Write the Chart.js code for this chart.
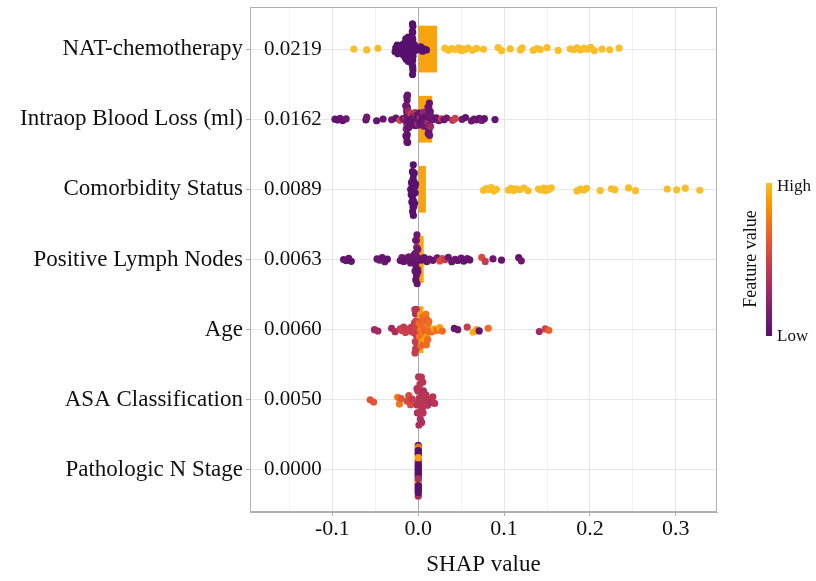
<!DOCTYPE html>
<html>
<head>
<meta charset="utf-8">
<script src="https://cdn.jsdelivr.net/npm/chart.js@4.4.1/dist/chart.umd.min.js"></script>
<style>
  html, body { margin: 0; padding: 0; background: #fff; }
  #wrap { width: 816px; height: 581px; position: relative; }
</style>
</head>
<body>
<div id="wrap"><canvas id="shapChart"></canvas></div>
<script>
// feature names, top to bottom, and mean |SHAP| shown by the bars and the numbers
var features = ["NAT-chemotherapy", "Intraop Blood Loss (ml)", "Comorbidity Status",
  "Positive Lymph Nodes", "Age", "ASA Classification", "Pathologic N Stage"];
var meanAbsShap = [0.0219, 0.0162, 0.0089, 0.0063, 0.0060, 0.0050, 0.0000];

var xMajorTicks = [-0.1, 0, 0.1, 0.2, 0.3];
var xMinorTicks = [-0.15, -0.05, 0.05, 0.15, 0.25];

// NAT-chemotherapy (binary: high = 1, low = 0)
var natHighShap = [-0.075, -0.060, -0.047, 0.031, 0.035, 0.039, 0.043, 0.047, 0.050, 0.052, 0.054,
  0.058, 0.063, 0.068, 0.076, 0.093, 0.097, 0.107, 0.119, 0.121, 0.134, 0.138, 0.142, 0.150, 0.163,
  0.177, 0.181, 0.185, 0.189, 0.193, 0.197, 0.201, 0.205, 0.214, 0.223, 0.234];
var natLowShap = [-0.027, -0.0262, -0.0254, -0.0246, -0.0238, -0.023, -0.0222, -0.0214, -0.0206,
  -0.0198, -0.019, -0.0182, -0.0174,
  -0.0165, -0.016, -0.0155, -0.015, -0.0145, -0.014, -0.0135, -0.013, -0.0125, -0.012, -0.0115,
  -0.011, -0.0105, -0.010, -0.0095, -0.009, -0.0085, -0.008,
  -0.01575, -0.01475, -0.01375, -0.01275, -0.01175, -0.01075, -0.00975, -0.00875,
  -0.0069, -0.00685, -0.0068, -0.00675, -0.0067, -0.00665, -0.0066, -0.00655, -0.0065, -0.00645,
  -0.0064, -0.00635, -0.0063, -0.00625, -0.0062, -0.0061,
  -0.0045, -0.003, -0.001, 0.001, 0.003, 0.005, 0.007, 0.0095];

// Intraop Blood Loss (continuous)
var bloodShap = [-0.097, -0.094, -0.091, -0.088, -0.084, -0.061, -0.060, -0.0485, -0.041, -0.031,
  -0.026, -0.0213, -0.018, -0.016,
  -0.0146, -0.0144, -0.0142, -0.0140, -0.0138, -0.0136, -0.0135, -0.0134, -0.0133, -0.0132,
  -0.0131, -0.0130, -0.0129, -0.0128, -0.0127, -0.0126, -0.0125, -0.0123, -0.0121, -0.0118,
  -0.0115, -0.0112,
  -0.0095, -0.0089, -0.0083, -0.0077, -0.0071, -0.0065, -0.0059, -0.0053, -0.0047, -0.0041,
  -0.0035, -0.0029, -0.0023, -0.0017, -0.0011, -0.0005, 0.0001, 0.0007, 0.0013, 0.0019, 0.0025,
  0.0031, 0.0037, 0.0043, 0.0049, 0.0055, 0.0061, 0.0067, 0.0073, 0.0079, 0.0085,
  0.0105, 0.0108, 0.0111, 0.0114, 0.0116, 0.0118, 0.0120, 0.0122, 0.0124, 0.0126, 0.0128,
  0.0130, 0.0132, 0.0134, 0.0137, 0.0140, 0.0143, 0.0146,
  0.018, 0.021, 0.024, 0.027, 0.030, 0.033, 0.040, 0.043, 0.051, 0.055, 0.062, 0.065, 0.068,
  0.071, 0.074, 0.077, 0.0894];
var bloodFeat = [0.05, 0.05, 0.08, 0.05, 0.10, 0.05, 0.12, 0.05, 0.08, 0.10, 0.05, 0.55, 0.10, 0.15,
  0.05, 0.08, 0.30, 0.05, 0.10, 0.05, 0.08, 0.25, 0.05, 0.10, 0.05, 0.30, 0.08, 0.05, 0.10, 0.05,
  0.08, 0.05, 0.10, 0.05, 0.30, 0.05,
  0.10, 0.05, 0.45, 0.08, 0.05, 0.10, 0.30, 0.05, 0.08, 0.05, 0.40, 0.05, 0.10, 0.05, 0.08, 0.30,
  0.05, 0.10, 0.05, 0.08, 0.35, 0.05, 0.10, 0.05, 0.08, 0.05, 0.25, 0.10, 0.05, 0.08, 0.05,
  0.05, 0.10, 0.30, 0.05, 0.08, 0.05, 0.25, 0.10, 0.05, 0.08, 0.35, 0.05, 0.10, 0.05,
  0.08, 0.05, 0.30, 0.10,
  0.10, 0.05, 0.10, 0.45, 0.05, 0.10, 0.40, 0.50, 0.10, 0.05, 0.10, 0.05, 0.10, 0.05, 0.15, 0.05, 0.05];

// Comorbidity Status (binary)
var comorbHighShap = [0.076, 0.079, 0.082, 0.085, 0.088, 0.091, 0.105, 0.108, 0.111, 0.114, 0.118,
  0.123, 0.128, 0.140, 0.143, 0.146, 0.148, 0.150, 0.152, 0.155, 0.185, 0.189, 0.193, 0.196,
  0.212, 0.225, 0.229, 0.245, 0.253, 0.290, 0.301, 0.311, 0.328];
var comorbLowShap = [-0.0088, -0.0082, -0.0078, -0.0075, -0.0072, -0.0070, -0.0068, -0.0066,
  -0.0064, -0.0063, -0.0062, -0.0061, -0.0060, -0.0059, -0.0058, -0.0057, -0.0056, -0.0055,
  -0.0054, -0.0052, -0.0050, -0.0048, -0.0046, -0.0043, -0.0040, -0.0036, -0.0032];

// Positive Lymph Nodes (continuous)
var lymphShap = [-0.087, -0.084, -0.081, -0.078, -0.048, -0.045, -0.042, -0.039, -0.036,
  -0.021, -0.019, -0.017, -0.015, -0.013, -0.011, -0.009, -0.0075, -0.006, -0.005,
  -0.0038, -0.0035, -0.0033, -0.0031, -0.0029, -0.0027, -0.0025, -0.0023, -0.0021, -0.0019,
  -0.0017, -0.0015, -0.0013, -0.0011, -0.0009, -0.0007, -0.0005,
  0.0015, 0.004, 0.007, 0.010, 0.013, 0.017, 0.022, 0.025, 0.028, 0.031, 0.035, 0.039, 0.043,
  0.046, 0.050, 0.053, 0.057, 0.060, 0.074, 0.078, 0.087, 0.097, 0.117, 0.120];
var lymphFeat = [0.05, 0.08, 0.05, 0.05, 0.05, 0.10, 0.05, 0.08, 0.05,
  0.05, 0.10, 0.05, 0.08, 0.05, 0.10, 0.05, 0.08, 0.05, 0.10,
  0.05, 0.08, 0.05, 0.30, 0.05, 0.10, 0.05, 0.08, 0.05, 0.25,
  0.05, 0.10, 0.05, 0.08, 0.05, 0.10, 0.05,
  0.10, 0.05, 0.08, 0.05, 0.10, 0.05, 0.10, 0.55, 0.55, 0.45, 0.10, 0.05, 0.08,
  0.05, 0.10, 0.05, 0.08, 0.05, 0.55, 0.45, 0.10, 0.05, 0.05, 0.10];

// Age (continuous)
var ageShap = [-0.051, -0.047, -0.031, -0.027, -0.021, -0.019, -0.017, -0.015, -0.0125, -0.010,
  -0.008, -0.0065,
  -0.0044, -0.0042, -0.0040, -0.0038, -0.0036, -0.0034, -0.0032, -0.0030, -0.0028, -0.0026,
  -0.0024, -0.0022, -0.0020, -0.0018,
  0.0010, 0.0014, 0.0018, 0.0022, 0.0026, 0.0030, 0.0034, 0.0038, 0.0042, 0.0046, 0.0050,
  0.0054, 0.0058, 0.0062, 0.0066, 0.0070, 0.0074, 0.0078, 0.0082, 0.0086, 0.0090, 0.0094,
  0.0098, 0.0102, 0.0106, 0.0110, 0.0114, 0.0118, 0.0122,
  0.016, 0.019, 0.022, 0.025, 0.028, 0.042, 0.046, 0.057, 0.064, 0.068, 0.071, 0.0815,
  0.141, 0.148, 0.152];
var ageFeat = [0.30, 0.30, 0.30, 0.35, 0.45, 0.50, 0.45, 0.50, 0.45, 0.50, 0.45, 0.45,
  0.45, 0.50, 0.40, 0.45, 0.50, 0.45, 0.35, 0.45, 0.50, 0.45, 0.40, 0.45, 0.50, 0.45,
  0.70, 0.75, 0.70, 0.65, 0.90, 0.70, 0.75, 0.70, 0.65, 0.90, 0.70, 0.75, 0.70, 0.65, 0.70,
  0.75, 0.70, 0.90, 0.70, 0.65, 0.75, 0.70, 0.70, 0.90, 0.65, 0.70, 0.75, 0.70, 0.70,
  0.70, 0.90, 0.70, 0.90, 0.70, 0.05, 0.10, 0.45, 0.95, 0.90, 0.05, 0.70,
  0.30, 0.50, 0.65];

// ASA Classification
var asaShap = [-0.056, -0.052, -0.024, -0.022, -0.020, -0.013, -0.011, -0.009, -0.007,
  -0.0020, -0.0015, -0.0010, -0.0005, 0.0000, 0.0004, 0.0008, 0.0012, 0.0016, 0.0020, 0.0024,
  0.0028, 0.0032, 0.0036, 0.0040, 0.0044, 0.0048, 0.0052, 0.0056, 0.0060, 0.0065,
  0.009, 0.011, 0.013, 0.015, 0.017, 0.019];
var asaFeat = [0.60, 0.60, 0.75, 0.75, 0.60, 0.55, 0.55, 0.55, 0.45,
  0.40, 0.40, 0.35, 0.40, 0.40, 0.40, 0.35, 0.40, 0.40, 0.40, 0.35,
  0.40, 0.40, 0.40, 0.35, 0.40, 0.40, 0.40, 0.40, 0.35, 0.40,
  0.40, 0.40, 0.40, 0.35, 0.40, 0.40];

// Pathologic N Stage
var pnShap = [0, 0, 0, 0, 0, 0, 0, 0, 0, 0, 0, 0, 0, 0, 0, 0, 0, 0, 0, 0, 0, 0, 0, 0, 0, 0, 0, 0, 0, 0];
var pnFeat = [0, 0, 0.75, 0, 0.35, 0, 0, 0.9, 0, 0.35, 0, 0, 0.75, 0, 0, 0.35, 0, 0.9, 0, 0,
  0.35, 0, 0.75, 0, 0, 0.35, 0, 0, 0.9, 0];

// ---- colours (viridis "inferno", begin 0.25, end 0.85) ----
var INFERNO = ["#57106E", "#6A176E", "#7E1E6C", "#932667", "#A82E5F", "#BC3754", "#CD4347",
  "#DD513A", "#EA632A", "#F37819", "#F98E09", "#FCA50A", "#F9BE28"];

function hexRgb(h) {
  return [parseInt(h.substr(1, 2), 16), parseInt(h.substr(3, 2), 16), parseInt(h.substr(5, 2), 16)];
}
function featColor(f) {
  var t = Math.max(0, Math.min(1, f)) * (INFERNO.length - 1);
  var i = Math.min(Math.floor(t), INFERNO.length - 2), k = t - i;
  var a = hexRgb(INFERNO[i]), b = hexRgb(INFERNO[i + 1]);
  return "rgb(" + Math.round(a[0] + (b[0] - a[0]) * k) + "," + Math.round(a[1] + (b[1] - a[1]) * k) +
    "," + Math.round(a[2] + (b[2] - a[2]) * k) + ")";
}

// ---- beeswarm spread (density scaled, van der Corput order) ----
function vdc(k) {
  var r = 0, f = 0.5;
  while (k > 0) { r += f * (k % 2); k = Math.floor(k / 2); f /= 2; }
  return r;
}
function beeOffsets(xs) {
  var bw = 0.001, width = 0.4, dens = [], maxD = 0;
  for (var i = 0; i < xs.length; i++) {
    var s = 0;
    for (var j = 0; j < xs.length; j++) {
      var u = (xs[i] - xs[j]) / bw;
      s += Math.exp(-0.5 * u * u);
    }
    dens.push(s);
    if (s > maxD) maxD = s;
  }
  var order = xs.map(function (v, i) { return i; }).sort(function (a, b) { return xs[a] - xs[b] || a - b; });
  var rank = [];
  order.forEach(function (idx, r) { rank[idx] = r + 1; });
  return xs.map(function (v, i) { return (2 * vdc(rank[i]) - 1) * width * dens[i] / maxD; });
}

function ones(arr, v) { return arr.map(function () { return v; }); }

var rows = [
  { shap: natHighShap.concat(natLowShap), feat: ones(natHighShap, 1).concat(ones(natLowShap, 0)) },
  { shap: bloodShap, feat: bloodFeat },
  { shap: comorbHighShap.concat(comorbLowShap), feat: ones(comorbHighShap, 1).concat(ones(comorbLowShap, 0)) },
  { shap: lymphShap, feat: lymphFeat },
  { shap: ageShap, feat: ageFeat },
  { shap: asaShap, feat: asaFeat },
  { shap: pnShap, feat: pnFeat }
];

var nRows = features.length;
var datasets = [];

datasets.push({
  type: "bar",
  indexAxis: "y",
  data: meanAbsShap.map(function (v, i) { return { x: v, y: nRows - i }; }),
  backgroundColor: "#F9A30F",
  borderWidth: 0,
  barPercentage: 2 / 3,
  categoryPercentage: 1,
  order: 10
});

rows.forEach(function (row, i) {
  var offs = beeOffsets(row.shap);
  datasets.push({
    type: "scatter",
    data: row.shap.map(function (v, k) { return { x: v, y: nRows - i + offs[k] }; }),
    backgroundColor: row.feat.map(featColor),
    pointRadius: 3.6,
    pointBorderWidth: 0,
    order: i
  });
});

var serif = '"Liberation Serif", "Times New Roman", serif';
Chart.defaults.font.family = serif;

function isMajor(v) { return Math.abs(v * 10 - Math.round(v * 10)) < 1e-6; }

var panelPlugin = {
  id: "panel",
  beforeDatasetsDraw: function (chart) {
    var c = chart.ctx, x = chart.scales.x, a = chart.chartArea;
    var px = Math.round(x.getPixelForValue(0)) + 0.5;
    c.save();
    c.strokeStyle = "#A9A9A9";
    c.lineWidth = 1;
    c.beginPath(); c.moveTo(px, a.top); c.lineTo(px, a.bottom); c.stroke();
    c.restore();
  },
  afterDatasetsDraw: function (chart) {
    var c = chart.ctx, x = chart.scales.x, y = chart.scales.y;
    c.save();
    c.font = "21px " + serif;
    c.fillStyle = "#111";
    c.textAlign = "center";
    c.textBaseline = "middle";
    meanAbsShap.forEach(function (v, i) {
      c.fillText(v.toFixed(4), x.getPixelForValue(-0.146), y.getPixelForValue(nRows - i));
    });
    c.restore();
  },
  afterDraw: function (chart) {
    var c = chart.ctx, a = chart.chartArea;
    c.save();
    c.strokeStyle = "#B0B0B0";
    c.lineWidth = 1;
    c.strokeRect(Math.round(a.left) + 0.5, Math.round(a.top) + 0.5,
      Math.round(a.right - a.left) - 1, Math.round(a.bottom - a.top) - 1);
    // colour bar legend
    var bx = 766, bt = 183, bb = 336, bwid = 6;
    var g = c.createLinearGradient(0, bb, 0, bt);
    INFERNO.forEach(function (col, i) { g.addColorStop(i / (INFERNO.length - 1), col); });
    c.fillStyle = g;
    c.fillRect(bx, bt, bwid, bb - bt);
    c.fillStyle = "#111";
    c.font = "17px " + serif;
    c.textAlign = "left";
    c.textBaseline = "middle";
    c.fillText("High", 777, 187);
    c.fillText("Low", 777, 337);
    c.translate(751, 259);
    c.rotate(-Math.PI / 2);
    c.textAlign = "center";
    c.font = "18px " + serif;
    c.fillText("Feature value", 0, 0);
    c.restore();
  }
};

new Chart(document.getElementById("shapChart"), {
  type: "scatter",
  data: { datasets: datasets },
  options: {
    responsive: true,
    maintainAspectRatio: false,
    animation: false,
    events: [],
    layout: { padding: { top: 7, right: 99, left: 0, bottom: 0 } },
    plugins: { legend: { display: false }, tooltip: { enabled: false } },
    scales: {
      x: {
        type: "linear",
        min: -0.196,
        max: 0.348,
        offset: false,
        afterBuildTicks: function (scale) {
          scale.ticks = xMinorTicks.concat(xMajorTicks).sort(function (a, b) { return a - b; })
            .map(function (v) { return { value: v }; });
        },
        afterFit: function (scale) {
          scale.height = 69;
          scale.paddingLeft = 0;
          scale.paddingRight = 0;
        },
        ticks: {
          autoSkip: false,
          maxRotation: 0,
          padding: 0,
          color: "#111",
          font: { size: 22 },
          callback: function (v) { return isMajor(v) ? v.toFixed(1) : ""; }
        },
        grid: {
          offset: false,
          color: function (ctx) { return ctx.tick && isMajor(ctx.tick.value) ? "#E6E6E6" : "#F3F3F3"; },
          tickColor: function (ctx) { return ctx.tick && isMajor(ctx.tick.value) ? "#B0B0B0" : "rgba(0,0,0,0)"; },
          tickLength: 4
        },
        border: { color: "#B0B0B0" },
        title: { display: true, text: "SHAP value", color: "#111", font: { size: 23 }, padding: { top: 0, bottom: 2 } }
      },
      y: {
        type: "linear",
        min: 0.4,
        max: 7.6,
        offset: false,
        afterBuildTicks: function (scale) {
          scale.ticks = features.map(function (f, i) { return { value: nRows - i }; });
        },
        afterFit: function (scale) {
          scale.width = 250;
          scale.paddingTop = 0;
          scale.paddingBottom = 0;
        },
        ticks: {
          autoSkip: false,
          padding: 3,
          color: "#111",
          font: { size: 23 },
          callback: function (v) { return features[nRows - v]; }
        },
        grid: { offset: false, color: "#E6E6E6", tickColor: "#B0B0B0", tickLength: 4 },
        border: { color: "#B0B0B0" }
      }
    }
  },
  plugins: [panelPlugin]
});
</script>
</body>
</html>
